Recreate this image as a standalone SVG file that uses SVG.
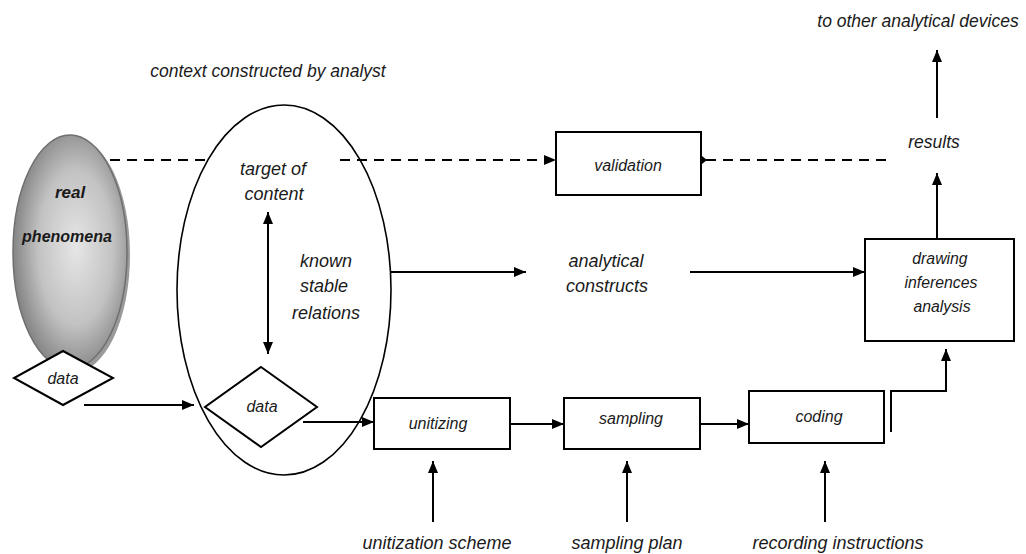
<svg xmlns="http://www.w3.org/2000/svg" width="1026" height="554" viewBox="0 0 1026 554">
  <style>
    .lbl { font-family: "Liberation Sans", Arial, sans-serif; font-style: italic; fill: #1a1a1a; text-anchor: middle; }
    .box { fill: #fff; stroke: #000; stroke-width: 2; }
    .ln { fill: none; stroke: #000; stroke-width: 2; }
    .dash { fill: none; stroke: #000; stroke-width: 2; stroke-dasharray: 10 7; }
  </style>
  <defs>
    <marker id="arr" viewBox="0 0 12 10" refX="12" refY="5" markerWidth="12" markerHeight="10" markerUnits="userSpaceOnUse" orient="auto-start-reverse">
      <path d="M0,0 L12,5 L0,10 Z" fill="#000"/>
    </marker>
    <radialGradient id="grey" cx="0.55" cy="0.48" r="0.6">
      <stop offset="0" stop-color="#e6e6e6"/>
      <stop offset="0.55" stop-color="#c2c2c2"/>
      <stop offset="1" stop-color="#767676"/>
    </radialGradient>
  </defs>

  <!-- real phenomena -->
  <g id="real-phenomena">
    <ellipse cx="73" cy="255" rx="57" ry="118" fill="#9a9a9a"/>
    <ellipse cx="70" cy="252" rx="57" ry="117" fill="url(#grey)" stroke="#6f6f6f" stroke-width="1.5"/>
    <text class="lbl" x="70" y="198" font-size="17" font-weight="bold">real</text>
    <text class="lbl" x="67" y="242" font-size="16" font-weight="bold">phenomena</text>
  </g>
  <g id="data-source">
    <polygon class="box" points="63,351 113,378 63,405 14,378" stroke-width="1.5"/>
    <text class="lbl" x="63" y="384" font-size="16">data</text>
  </g>

  <!-- analyst context -->
  <text class="lbl" x="268" y="77" font-size="17.5">context constructed by analyst</text>
  <g id="context">
    <ellipse cx="284" cy="290" rx="107" ry="185" fill="none" stroke="#000" stroke-width="1.6"/>
    <text class="lbl" x="273" y="175" font-size="18">target of</text>
    <text class="lbl" x="274" y="200" font-size="18">content</text>
    <text class="lbl" x="326" y="267" font-size="18">known</text>
    <text class="lbl" x="324" y="292" font-size="18">stable</text>
    <text class="lbl" x="326" y="319" font-size="18">relations</text>
  </g>
  <g id="data-sample">
    <polygon class="box" points="261,367 317,407 261,447 205,407" stroke-width="1.5"/>
    <text class="lbl" x="262" y="412" font-size="16">data</text>
  </g>
  <g id="analytical-constructs">
    <text class="lbl" x="606" y="267" font-size="18">analytical</text>
    <text class="lbl" x="607" y="292" font-size="18">constructs</text>
  </g>

  <!-- process boxes -->
  <g id="validation">
    <rect class="box" x="556" y="132" width="145" height="63"/>
    <text class="lbl" x="628" y="171" font-size="16">validation</text>
  </g>
  <g id="unitizing">
    <rect class="box" x="374" y="398" width="136" height="51"/>
    <text class="lbl" x="438" y="429" font-size="16">unitizing</text>
  </g>
  <g id="sampling">
    <rect class="box" x="564" y="398" width="136" height="51"/>
    <text class="lbl" x="631" y="424" font-size="16">sampling</text>
  </g>
  <g id="coding">
    <rect class="box" x="749" y="391" width="135" height="52"/>
    <text class="lbl" x="819" y="422" font-size="16">coding</text>
  </g>
  <g id="drawing-inferences">
    <rect class="box" x="865" y="239" width="149" height="102"/>
    <text class="lbl" x="940" y="264" font-size="15.8">drawing</text>
    <text class="lbl" x="941" y="288" font-size="15.8">inferences</text>
    <text class="lbl" x="942" y="312" font-size="15.8">analysis</text>
  </g>
  <g id="results">
    <text class="lbl" x="934" y="148" font-size="17.5">results</text>
  </g>
  <g id="outputs">
    <text class="lbl" x="918" y="27" font-size="17.5">to other analytical devices</text>
    <text class="lbl" x="437" y="549" font-size="18">unitization scheme</text>
    <text class="lbl" x="627" y="549" font-size="18">sampling plan</text>
    <text class="lbl" x="838" y="549" font-size="18">recording instructions</text>
  </g>

  <!-- connectors -->
  <g id="connectors">
    <path class="dash" d="M110,160 H212"/>
    <path class="dash" d="M340,160 H556" marker-end="url(#arr)"/>
    <path class="dash" d="M706,160 H893"/>
    <path d="M702,156 L707,160 L702,164 Z" fill="#000"/>
    <path class="ln" d="M268,212 V354" marker-start="url(#arr)" marker-end="url(#arr)"/>
    <path class="ln" d="M84,405 H194" marker-end="url(#arr)"/>
    <path class="ln" d="M303,422 H374" marker-end="url(#arr)"/>
    <path class="ln" d="M510,424 H564" marker-end="url(#arr)"/>
    <path class="ln" d="M700,424 H749" marker-end="url(#arr)"/>
    <path class="ln" d="M391,272 H526" marker-end="url(#arr)"/>
    <path class="ln" d="M690,272 H865" marker-end="url(#arr)"/>
    <path class="ln" d="M891,432 V391 H946 V349" marker-end="url(#arr)"/>
    <path class="ln" d="M937,239 V173" marker-end="url(#arr)"/>
    <path class="ln" d="M937,118 V50" marker-end="url(#arr)"/>
    <path class="ln" d="M433,522 V461" marker-end="url(#arr)"/>
    <path class="ln" d="M627,522 V461" marker-end="url(#arr)"/>
    <path class="ln" d="M825,522 V461" marker-end="url(#arr)"/>
  </g>
</svg>
